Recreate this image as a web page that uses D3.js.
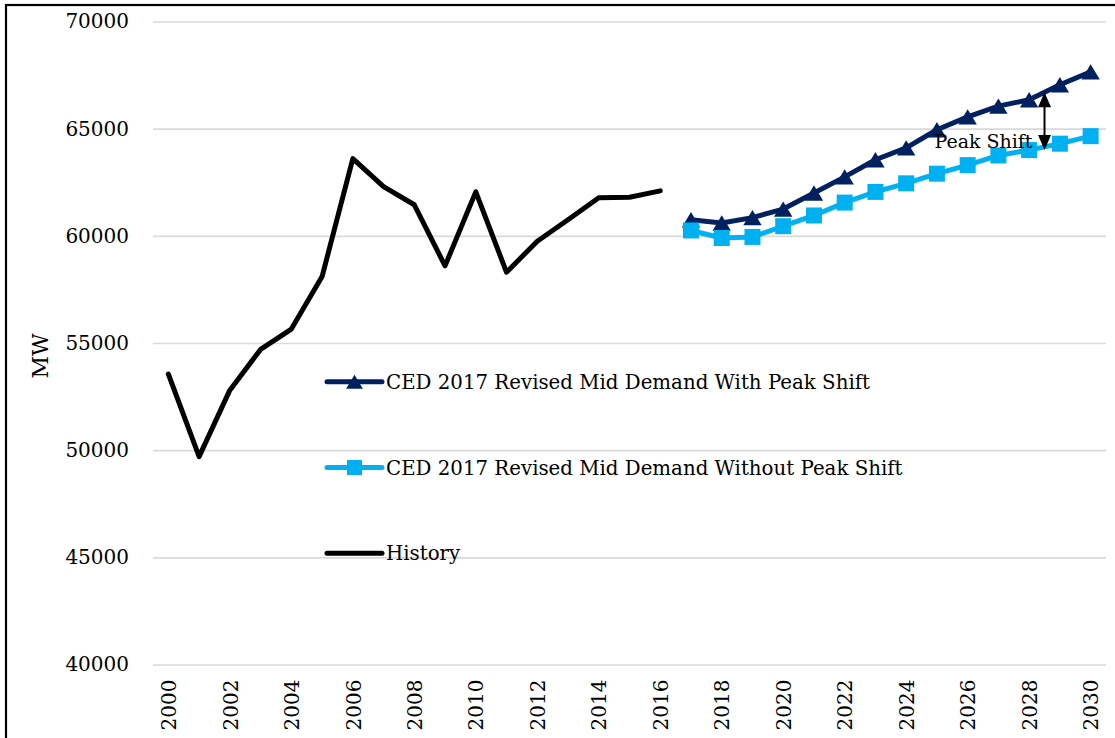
<!DOCTYPE html>
<html>
<head>
<meta charset="utf-8">
<script src="https://cdn.jsdelivr.net/npm/d3@7"></script>
<style>
  body { margin: 0; background: #fff; }
  svg { display: block; font-family: "DejaVu Serif", serif; }
</style>
</head>
<body>
<div id="holder"></div>
<script>
const w = 1115;
const h = 738;

// Data
const years = [2000, 2001, 2002, 2003, 2004, 2005, 2006, 2007, 2008, 2009, 2010,
  2011, 2012, 2013, 2014, 2015, 2016, 2017, 2018, 2019, 2020, 2021, 2022, 2023,
  2024, 2025, 2026, 2027, 2028, 2029, 2030];
const historyYears = [2000, 2001, 2002, 2003, 2004, 2005, 2006, 2007, 2008, 2009,
  2010, 2011, 2012, 2013, 2014, 2015, 2016];
const historyValues = [53550, 49700, 52800, 54700, 55650, 58100, 63600, 62300, 61450,
  58600, 62050, 58300, 59750, 60750, 61780, 61800, 62100];
const forecastYears = [2017, 2018, 2019, 2020, 2021, 2022, 2023, 2024, 2025, 2026,
  2027, 2028, 2029, 2030];
const withShiftValues = [60750, 60600, 60850, 61250, 62000, 62750, 63550, 64100,
  64950, 65550, 66050, 66350, 67050, 67650];
const withoutShiftValues = [60250, 59900, 59950, 60450, 60950, 61550, 62050, 62450,
  62900, 63300, 63750, 64000, 64300, 64650];
const yTicks = [40000, 45000, 50000, 55000, 60000, 65000, 70000];
const xTickYears = [2000, 2002, 2004, 2006, 2008, 2010, 2012, 2014, 2016, 2018,
  2020, 2022, 2024, 2026, 2028, 2030];
const seriesNames = ["CED 2017 Revised Mid Demand With Peak Shift",
  "CED 2017 Revised Mid Demand Without Peak Shift", "History"];
const peakShift = { label: "Peak Shift", from: 2028, to: 2029, top: 66700, bottom: 64000 };

const navy = "#002060";
const sky = "#00B0F0";

const svg = d3.select("#holder")
  .append("svg")
  .attr("width", w)
  .attr("height", h);

// outer chart border
svg.append("rect")
  .attr("x", 6).attr("y", 5)
  .attr("width", w + 20).attr("height", h + 20)
  .attr("fill", "none")
  .attr("stroke", "#000")
  .attr("stroke-width", 2.2);

const x = d3.scalePoint()
  .domain(years)
  .range([153, 1106])
  .padding(0.5);

const y = d3.scaleLinear()
  .domain([40000, 70000])
  .range([664.5, 21.5]);

// y axis with gridlines
svg.append("g")
  .attr("transform", "translate(153,0)")
  .call(d3.axisLeft(y).tickValues(yTicks).tickSize(-953).tickPadding(24).tickFormat(d3.format("d")))
  .call(g => g.select(".domain").remove())
  .call(g => g.selectAll(".tick line").attr("stroke", "#D9D9D9").attr("stroke-width", 1.6))
  .call(g => g.selectAll("text")
    .attr("font-family", "DejaVu Serif")
    .attr("font-size", 20)
    .attr("fill", "#000"));

// x axis labels
svg.append("g")
  .attr("transform", "translate(0,664.5)")
  .call(d3.axisBottom(x).tickValues(xTickYears).tickSize(0))
  .call(g => g.select(".domain").remove())
  .call(g => g.selectAll("text")
    .attr("font-family", "DejaVu Serif")
    .attr("font-size", 20)
    .attr("fill", "#000")
    .attr("transform", "rotate(-90)")
    .attr("text-anchor", "end")
    .attr("x", -15)
    .attr("y", 0)
    .attr("dy", "0.36em"));

// y axis title
svg.append("text")
  .attr("transform", "translate(48,356) rotate(-90)")
  .attr("text-anchor", "middle")
  .attr("font-size", 22)
  .text("MW");

const line = d3.line()
  .x(d => x(d[0]))
  .y(d => y(d[1]));

const history = historyYears.map((yr, i) => [yr, historyValues[i]]);
const withShift = forecastYears.map((yr, i) => [yr, withShiftValues[i]]);
const withoutShift = forecastYears.map((yr, i) => [yr, withoutShiftValues[i]]);

// triangle centred on its bounding box, like the spreadsheet marker
const tri = {
  draw(ctx, size) {
    const tw = Math.sqrt(size) * 1.2, th = Math.sqrt(size);
    ctx.moveTo(0, -th / 2);
    ctx.lineTo(tw / 2, th / 2);
    ctx.lineTo(-tw / 2, th / 2);
    ctx.closePath();
  }
};

svg.append("path")
  .datum(history)
  .attr("d", line)
  .attr("fill", "none")
  .attr("stroke", "#000")
  .attr("stroke-width", 5)
  .attr("stroke-linejoin", "round")
  .attr("stroke-linecap", "round");

svg.append("path")
  .datum(withShift)
  .attr("d", line)
  .attr("fill", "none")
  .attr("stroke", navy)
  .attr("stroke-width", 5)
  .attr("stroke-linejoin", "round");

svg.selectAll(".tri")
  .data(withShift)
  .join("path")
  .attr("class", "tri")
  .attr("transform", d => `translate(${x(d[0])},${y(d[1])})`)
  .attr("d", d3.symbol(tri, 235))
  .attr("fill", navy);

svg.append("path")
  .datum(withoutShift)
  .attr("d", line)
  .attr("fill", "none")
  .attr("stroke", sky)
  .attr("stroke-width", 5)
  .attr("stroke-linejoin", "round");

svg.selectAll(".sq")
  .data(withoutShift)
  .join("path")
  .attr("class", "sq")
  .attr("transform", d => `translate(${x(d[0])},${y(d[1])})`)
  .attr("d", d3.symbol(d3.symbolSquare, 256))
  .attr("fill", sky);

// Peak Shift annotation
const ax = (x(peakShift.from) + x(peakShift.to)) / 2;
const aTop = y(peakShift.top);
const aBot = y(peakShift.bottom);

svg.append("text")
  .attr("x", ax - 12)
  .attr("y", aBot - 2)
  .attr("text-anchor", "end")
  .attr("font-size", 19)
  .text(peakShift.label);

svg.append("line")
  .attr("x1", ax).attr("x2", ax)
  .attr("y1", aTop + 10).attr("y2", aBot - 10)
  .attr("stroke", "#000")
  .attr("stroke-width", 2);

svg.append("path")
  .attr("d", `M${ax},${aTop} L${ax + 6.5},${aTop + 15} L${ax - 6.5},${aTop + 15} Z`)
  .attr("fill", "#000");

svg.append("path")
  .attr("d", `M${ax},${aBot} L${ax + 6.5},${aBot - 15} L${ax - 6.5},${aBot - 15} Z`)
  .attr("fill", "#000");

// Legend
const legendColors = [navy, sky, "#000"];
const legendSymbols = [tri, d3.symbolSquare, null];
const legendSizes = [196, 225, 0];

const legend = svg.selectAll(".legend-item")
  .data(seriesNames)
  .join("g")
  .attr("class", "legend-item")
  .attr("transform", (d, i) => `translate(327,${381.7 + i * 85.8})`);

legend.append("line")
  .attr("x1", 0).attr("x2", 55)
  .attr("stroke", (d, i) => legendColors[i])
  .attr("stroke-width", 5)
  .attr("stroke-linecap", "round");

legend.filter((d, i) => legendSymbols[i])
  .append("path")
  .attr("transform", "translate(27.5,0)")
  .attr("d", (d, i) => d3.symbol(legendSymbols[i], legendSizes[i])())
  .attr("fill", (d, i) => legendColors[i]);

legend.append("text")
  .attr("x", 59)
  .attr("dy", "0.36em")
  .attr("font-size", 19.8)
  .text(d => d);
</script>
</body>
</html>
